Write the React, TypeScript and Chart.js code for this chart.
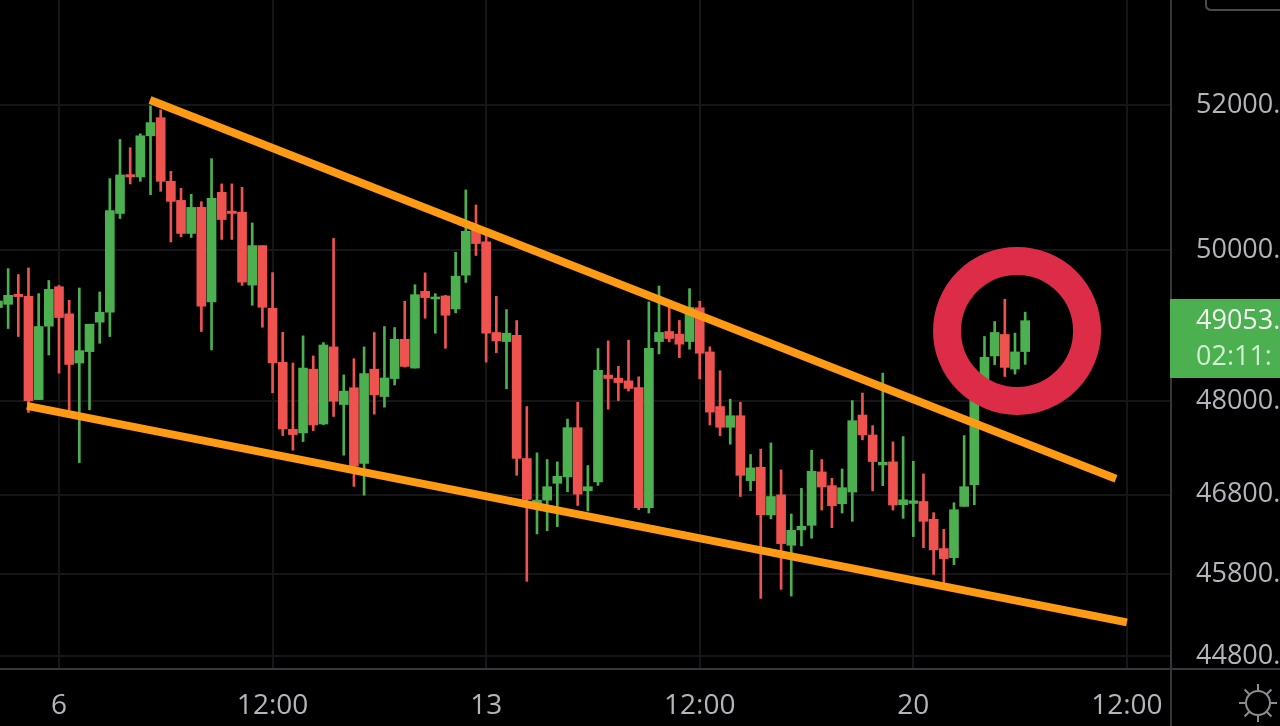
import React, { useEffect, useRef } from "react";
import { Chart, registerables } from "chart.js";

Chart.register(...registerables);

// Candle position: 0 is the "6" tick, one step is one 4h candle.
const firstCandle = -6;
const opens = [
  49227, 49271, 49404, 49377, 48017, 48980, 49505, 49143, 48494, 48644, 49033, 49165, 50496, 51029, 50997, 51568, 51821,
  50937, 50675, 50224, 50579, 49302, 50786, 50528, 50514, 49527, 50059, 49218, 48503, 47633, 47586, 48414, 47701, 48706,
  47953, 48171, 47194, 48414, 48057, 48291, 48807, 48428, 49443, 49342, 49382, 49209, 49660, 50276, 50110, 48896, 48777,
  48860, 47258, 46687, 46729, 46942, 47023, 47654, 46848, 46959, 48336, 48296, 48261, 48172, 46633, 48777, 48910, 48875,
  48777, 49224, 48640, 47927, 47659, 47808, 46976, 47147, 46542, 46796, 46162, 46354, 46412, 47087, 46912, 46683, 46831,
  47817, 47560, 47176, 47215, 46671, 46687, 46712, 46487, 46121, 46008, 46650, 46925, 48146, 48587, 48870, 48415, 48645,
];
const highs = [
  49470, 49748, 49669, 49757, 49413, 49589, 49523, 49324, 49488, 49006, 49435, 50974, 51517, 51402, 51595, 51986, 51931,
  51075, 50841, 50758, 50657, 51250, 50901, 50901, 50855, 50367, 50059, 49695, 48900, 48494, 48852, 48587, 48763, 50156,
  48339, 48551, 48706, 48896, 48975, 48962, 49311, 49532, 49691, 49413, 49390, 49969, 50819, 50612, 50207, 49377, 49201,
  49055, 47927, 47330, 47245, 47215, 47765, 47983, 47168, 48685, 48786, 48451, 48795, 48314, 49303, 49515, 49250, 49056,
  49480, 49312, 48707, 48393, 48022, 47983, 47309, 47377, 47458, 47112, 46554, 46878, 47364, 47245, 47006, 47125, 48004,
  48102, 47680, 48362, 47471, 47539, 47223, 47061, 46571, 46362, 46696, 47552, 48146, 48844, 49042, 49338, 48888, 49166,
];
const lows = [
  49072, 48949, 48843, 47851, 48017, 48600, 48361, 47863, 47206, 47885, 48754, 48843, 50427, 50901, 50937, 50753, 50799,
  50109, 50178, 50169, 48909, 48666, 50142, 50142, 49523, 49258, 48966, 48105, 47552, 47364, 47475, 47616, 47693, 47799,
  47300, 46903, 46792, 47829, 47919, 48207, 48441, 48428, 49086, 48887, 48688, 49156, 49563, 49925, 48507, 48631, 48158,
  47044, 45714, 46304, 46346, 46396, 46835, 46662, 46592, 46916, 47893, 48004, 48128, 46608, 46567, 48614, 48773, 48565,
  48676, 48287, 47689, 47552, 47441, 46775, 46848, 45504, 46492, 45615, 45532, 46154, 46250, 46604, 46383, 46567, 46462,
  47497, 46848, 46912, 46604, 46500, 46271, 46133, 45800, 45697, 45921, 46650, 46671, 48100, 48473, 48318, 48349, 48477,
];
const closes = [
  49315, 49390, 49373, 48004, 48975, 49470, 49095, 48476, 48657, 49006, 49165, 50537, 51025, 50997, 51568, 51752, 50937,
  50661, 50224, 50579, 49245, 50703, 50413, 50496, 49567, 50059, 49231, 48498, 47637, 47565, 48428, 47689, 48732, 47996,
  48127, 47159, 48357, 48079, 48299, 48807, 48450, 49399, 49360, 49368, 49125, 49647, 50253, 50087, 48887, 48785, 48887,
  47258, 46738, 46729, 46899, 47031, 47654, 46805, 46899, 48398, 48292, 48239, 48163, 46633, 48689, 48897, 48817, 48742,
  49228, 48623, 47855, 47659, 47808, 47044, 47138, 46546, 46775, 46183, 46350, 46400, 47095, 46895, 46658, 46886, 47744,
  47560, 47219, 47211, 46667, 46733, 46721, 46462, 46104, 45996, 46608, 46899, 48146, 48570, 48897, 48437, 48640, 49053,
];

const priceTicks = [52000, 50000, 48000, 46800, 45800, 44800];
const timeTicks = [0, 21, 42, 63, 84, 105];
const timeLabels = ["6", "12:00", "13", "12:00", "20", "12:00"];

const upperTrendX = [8.95, 103.93];
const upperTrendY = [52070, 46999];
const lowerTrendX = [-3.15, 105];
const lowerTrendY = [47935, 45210];
const ringX = [94.2];
const ringY = [48917];

const lastPriceLabel = "49053.";
const countdownLabel = "02:11:";

const GREEN = "#4caf50";
const RED = "#ef5350";
const ORANGE = "#ff9a14";
const CRIMSON = "#dd2c48";
const GRID = "#161619";
const AXIS = "#37373b";
const TEXT = "#b4b5ba";
const FONT = "'Open Sans'";

const indices = opens.map((_, i) => firstCandle + i);
const candleColors = opens.map((o, i) => (closes[i] >= o ? GREEN : RED));

const decorations = {
  id: "decorations",
  afterDraw(chart: any) {
    const ctx = chart.ctx;
    const W = chart.width;
    const H = chart.height;
    const a = chart.chartArea;
    ctx.save();
    // axis frame lines
    ctx.strokeStyle = AXIS;
    ctx.lineWidth = 2;
    ctx.beginPath();
    ctx.moveTo(a.right + 1, 0);
    ctx.lineTo(a.right + 1, H);
    ctx.moveTo(0, a.bottom + 1);
    ctx.lineTo(W, a.bottom + 1);
    ctx.stroke();
    // last price tag
    ctx.fillStyle = GREEN;
    ctx.fillRect(a.right, 299, W - a.right, 79);
    ctx.textAlign = "left";
    ctx.textBaseline = "middle";
    ctx.font = `27px ${FONT}`;
    ctx.fillStyle = "#f2f7f2";
    ctx.fillText(lastPriceLabel, 1196, 321);
    ctx.fillStyle = "#d0f0d2";
    ctx.fillText(countdownLabel, 1196, 357);
    // clipped button at the top right
    ctx.strokeStyle = "#4a4a4e";
    ctx.lineWidth = 2;
    ctx.beginPath();
    ctx.moveTo(1206, -2);
    ctx.lineTo(1206, 5);
    ctx.quadraticCurveTo(1206, 10, 1212, 10);
    ctx.lineTo(W + 2, 10);
    ctx.stroke();
    // settings sun
    const cx = 1258;
    const cy = 703;
    ctx.strokeStyle = "#8e8e92";
    ctx.beginPath();
    ctx.arc(cx, cy, 12, 0, Math.PI * 2);
    for (let k = 0; k < 8; k++) {
      const t = (k * Math.PI) / 4;
      ctx.moveTo(cx + Math.cos(t) * 13, cy + Math.sin(t) * 13);
      ctx.lineTo(cx + Math.cos(t) * 19, cy + Math.sin(t) * 19);
    }
    ctx.stroke();
    ctx.restore();
  },
};

export default function App() {
  const ref = useRef<HTMLCanvasElement>(null);
  useEffect(() => {
    const chart = new Chart(ref.current!, {
      type: "bar",
      plugins: [decorations],
      data: {
        datasets: [
          {
            type: "scatter",
            order: 0,
            data: ringX.map((x, i) => ({ x, y: ringY[i] })),
            pointRadius: 70,
            pointHoverRadius: 70,
            pointBorderWidth: 28,
            pointBorderColor: CRIMSON,
            pointBackgroundColor: "transparent",
            showLine: false,
          },
          {
            type: "line",
            order: 1,
            data: upperTrendX.map((x, i) => ({ x, y: upperTrendY[i] })),
            borderColor: ORANGE,
            borderWidth: 8,
            pointRadius: 0,
          },
          {
            type: "line",
            order: 1,
            data: lowerTrendX.map((x, i) => ({ x, y: lowerTrendY[i] })),
            borderColor: ORANGE,
            borderWidth: 8,
            pointRadius: 0,
          },
          {
            type: "bar",
            order: 2,
            grouped: false,
            barThickness: 9,
            data: indices.map((x, i) => ({ x, y: [opens[i], closes[i]] })),
            backgroundColor: candleColors,
          },
          {
            type: "bar",
            order: 3,
            grouped: false,
            barThickness: 2,
            data: indices.map((x, i) => ({ x, y: [lows[i], highs[i]] })),
            backgroundColor: candleColors,
          },
        ] as any,
      },
      options: {
        animation: false,
        responsive: false,
        maintainAspectRatio: false,
        layout: { padding: 0, autoPadding: false },
        events: [],
        plugins: { legend: { display: false }, title: { display: false }, tooltip: { enabled: false } },
        scales: {
          x: {
            type: "linear",
            position: "bottom",
            offset: false,
            min: -5.8,
            max: 109.24,
            grid: { color: GRID, lineWidth: 2, drawTicks: false, offset: false },
            border: { display: false },
            ticks: {
              color: TEXT,
              font: { family: "Open Sans", size: 28 },
              padding: 21,
              autoSkip: false,
              maxRotation: 0,
              callback: (v: any) => timeLabels[timeTicks.indexOf(Number(v))] ?? "",
            },
            afterBuildTicks: (s: any) => {
              s.ticks = timeTicks.map((value) => ({ value }));
            },
            afterFit: (s: any) => {
              s.height = 58;
              s.paddingLeft = s.paddingRight = s.paddingTop = s.paddingBottom = 0;
            },
          },
          y: {
            type: "logarithmic",
            position: "right",
            min: 44655,
            max: 53497,
            grid: { color: GRID, lineWidth: 2, drawTicks: false },
            border: { display: false },
            ticks: {
              color: TEXT,
              font: { family: "Open Sans", size: 27 },
              padding: 26,
              autoSkip: false,
              callback: (v: any) => `${v}.`,
            },
            afterBuildTicks: (s: any) => {
              s.ticks = priceTicks.map((value) => ({ value }));
            },
            afterFit: (s: any) => {
              s.width = 110;
              s.paddingLeft = s.paddingRight = s.paddingTop = s.paddingBottom = 0;
            },
          },
        },
      },
    } as any);
    return () => chart.destroy();
  }, []);

  return (
    <div style={{ position: "fixed", left: 0, top: 0, width: 1280, height: 726, background: "#000", overflow: "hidden" }}>
      <canvas ref={ref} width={1280} height={726} style={{ display: "block" }} />
    </div>
  );
}
